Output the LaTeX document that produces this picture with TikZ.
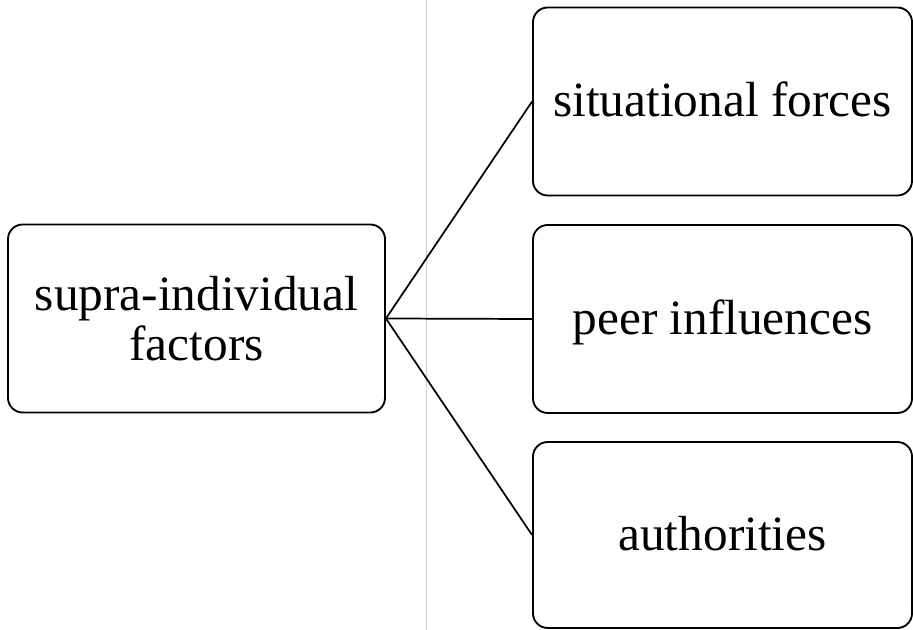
\documentclass[tikz,border=0pt]{standalone}
\usepackage{fontspec}
\setmainfont{Liberation Serif}
\begin{document}
\begin{tikzpicture}[x=0.75pt, y=-0.75pt,
  box/.style={draw=black, line width=1.4pt, rounded corners=11pt, fill=white,
    minimum width=377*0.75pt, minimum height=188*0.75pt, inner sep=0pt,
    font=\fontsize{37}{37.5}\selectfont},
  oneline/.style={text height=25pt, text depth=2pt},
  link/.style={draw=black, line width=1.3pt}]
  % canvas
  \useasboundingbox (0,0) rectangle (913,630);
  % faint divider
  \draw[black!18, line width=0.7pt] (426,0) -- (426,630);
  % boxes
  \node[box, align=center] (src) at (196.5,318.5) {supra-individual\\factors};
  \node[box, oneline, minimum width=379*0.75pt] (sit) at (722.5,101.5) {situational forces};
  \node[box, oneline, minimum width=379*0.75pt] (peer) at (722.5,319) {peer influences};
  \node[box, oneline, minimum width=379*0.75pt, minimum height=186*0.75pt] (auth) at (722.5,535) {authorities};
  % connectors
  \draw[link] (src.east) -- (sit.west);
  \draw[link] (src.east) -- (peer.west);
  \draw[link] (src.east) -- (auth.west);
\end{tikzpicture}
\end{document}
